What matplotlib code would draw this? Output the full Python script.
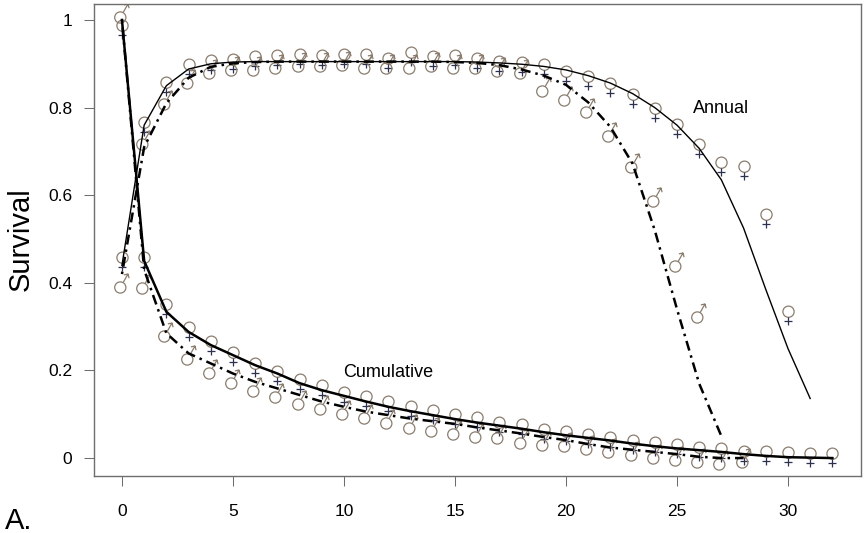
import matplotlib
matplotlib.use('Agg')
import matplotlib.pyplot as plt
from matplotlib.path import Path

plt.rcParams['font.family'] = ['Liberation Sans', 'DejaVu Sans']

# annual survival, observed (symbols) and fitted (lines)
annual_f_age = list(range(0, 31))
annual_f_obs = [0.45, 0.758, 0.85, 0.89, 0.899, 0.902, 0.908, 0.911, 0.913, 0.911,
                0.913, 0.913, 0.905, 0.917, 0.909, 0.911, 0.903, 0.898, 0.894, 0.890,
                0.875, 0.862, 0.848, 0.822, 0.789, 0.753, 0.708, 0.666, 0.657, 0.548,
                0.327]
annual_m_age = list(range(0, 27))
annual_m_obs = [0.40, 0.725, 0.817, 0.866, 0.889, 0.896, 0.896, 0.90, 0.904, 0.904,
                0.906, 0.90, 0.90, 0.899, 0.904, 0.90, 0.899, 0.893, 0.889, 0.847,
                0.826, 0.798, 0.744, 0.674, 0.596, 0.448, 0.33]

annual_f_fit_age = list(range(0, 32))
annual_f_fit = [0.44, 0.76, 0.85, 0.888, 0.90, 0.904, 0.905, 0.905, 0.905, 0.905,
                0.905, 0.905, 0.905, 0.905, 0.905, 0.905, 0.904, 0.902, 0.899, 0.894,
                0.886, 0.873, 0.856, 0.832, 0.80, 0.76, 0.707, 0.635, 0.525, 0.385,
                0.25, 0.136]
annual_m_fit_age = list(range(0, 28))
annual_m_fit = [0.42, 0.71, 0.81, 0.868, 0.893, 0.901, 0.904, 0.905, 0.905, 0.905,
                0.905, 0.905, 0.905, 0.905, 0.905, 0.904, 0.902, 0.897, 0.887, 0.873,
                0.852, 0.812, 0.756, 0.672, 0.52, 0.34, 0.17, 0.05]

# cumulative survival
cum_f_age = list(range(0, 33))
cum_f_obs = [0.979, 0.449, 0.342, 0.289, 0.259, 0.232, 0.209, 0.190, 0.171, 0.157,
             0.142, 0.132, 0.122, 0.11, 0.101, 0.091, 0.084, 0.074, 0.068, 0.058,
             0.053, 0.046, 0.040, 0.033, 0.028, 0.023, 0.017, 0.013, 0.008, 0.008,
             0.004, 0.002, 0.002]
cum_m_age = list(range(0, 29))
cum_m_obs = [1.016, 0.397, 0.288, 0.235, 0.204, 0.181, 0.162, 0.149, 0.132, 0.12,
             0.11, 0.10, 0.09, 0.078, 0.071, 0.065, 0.057, 0.054, 0.044, 0.04,
             0.037, 0.029, 0.024, 0.016, 0.009, 0.004, -0.001, -0.005, -0.001]

cum_f_fit = [1.0, 0.45, 0.334, 0.288, 0.258, 0.235, 0.212, 0.193, 0.171, 0.155,
             0.142, 0.129, 0.117, 0.107, 0.098, 0.089, 0.081, 0.074, 0.067, 0.059,
             0.052, 0.046, 0.040, 0.033, 0.027, 0.022, 0.018, 0.014, 0.009, 0.005,
             0.002, 0.001, 0.0]
cum_m_fit = [1.0, 0.43, 0.285, 0.239, 0.216, 0.193, 0.174, 0.159, 0.144, 0.129,
             0.117, 0.106, 0.098, 0.090, 0.084, 0.078, 0.070, 0.063, 0.056, 0.048,
             0.041, 0.032, 0.024, 0.019, 0.014, 0.009, 0.003, 0.0, 0.0]

x_ticks = [0, 5, 10, 15, 20, 25, 30]
y_ticks = [0, 0.2, 0.4, 0.6, 0.8, 1.0]
y_ticklabels = ['0', '0.2', '0.4', '0.6', '0.8', '1']


# sex symbols as two-part path markers (ring part and cross/arrow part)
def glyph(*parts):
    box = Path([(-10, -10), (10, 10)], [Path.MOVETO, Path.MOVETO])
    return Path.make_compound_path(box, *parts)

L = [Path.MOVETO, Path.LINETO]
fem_ring = glyph(Path.circle((0, 3.8), 5.6))
fem_cross = glyph(Path([(0, -1.8), (0, -9.5)], L), Path([(-4, -6), (4, -6)], L))
male_ring = glyph(Path.circle((-2.2, -4), 5.6))
male_arrow = glyph(Path([(0.6, 0.9), (5.5, 9.5)], L),
                   Path([(1.4, 8.6), (5.5, 9.5), (6.6, 5.3)], [Path.MOVETO, Path.LINETO, Path.LINETO]))

RING = '#8a7d6e'
CROSS = '#2e3050'
MS = 14.4


def female(ax, x, y):
    ax.plot(x, y, ls='none', marker=fem_ring, ms=MS, mfc='none', mec=RING, mew=0.9)
    ax.plot(x, y, ls='none', marker=fem_cross, ms=MS, mfc='none', mec=CROSS, mew=0.9)


def male(ax, x, y):
    ax.plot(x, y, ls='none', marker=male_ring, ms=MS, mfc='none', mec=RING, mew=0.9)
    ax.plot(x, y, ls='none', marker=male_arrow, ms=MS, mfc='none', mec=RING, mew=0.9)


fig = plt.figure(figsize=(8.67, 5.33), dpi=100)
ax = fig.add_axes([0.1084, 0.1069, 0.8847, 0.8856])

female(ax, annual_f_age, annual_f_obs)
male(ax, annual_m_age, annual_m_obs)
female(ax, cum_f_age, cum_f_obs)
male(ax, cum_m_age, cum_m_obs)

dotdash = (0, (1, 2, 4, 2))
ax.plot(annual_f_fit_age, annual_f_fit, color='black', lw=1.0)
ax.plot(annual_m_fit_age, annual_m_fit, color='black', lw=1.8, ls=dotdash)
ax.plot(cum_f_age, cum_f_fit, color='black', lw=1.8)
ax.plot(cum_m_age, cum_m_fit, color='black', lw=1.8, ls=dotdash)

ax.text(27, 0.797, 'Annual', ha='center', va='center', fontsize=13)
ax.text(12, 0.195, 'Cumulative', ha='center', va='center', fontsize=13)

ax.set_xlim(-1.26, 33.29)
ax.set_ylim(-0.041, 1.0365)
ax.set_xticks(x_ticks)
ax.set_yticks(y_ticks)
ax.set_yticklabels(y_ticklabels)
for s in ax.spines.values():
    s.set_color('#6e6e6e')
    s.set_linewidth(1.0)
ax.tick_params(direction='out', length=7.2, width=0.75, color='#6e6e6e', labelsize=12.5)
ax.tick_params(axis='x', pad=13)
ax.tick_params(axis='y', pad=8.6)

fig.text(0.024, 0.5516, 'Survival', rotation=90, ha='center', va='center', fontsize=21)
fig.text(0.006, 0.008, 'A.', ha='left', va='baseline', fontsize=21)

fig.savefig('out.png', dpi=100)
